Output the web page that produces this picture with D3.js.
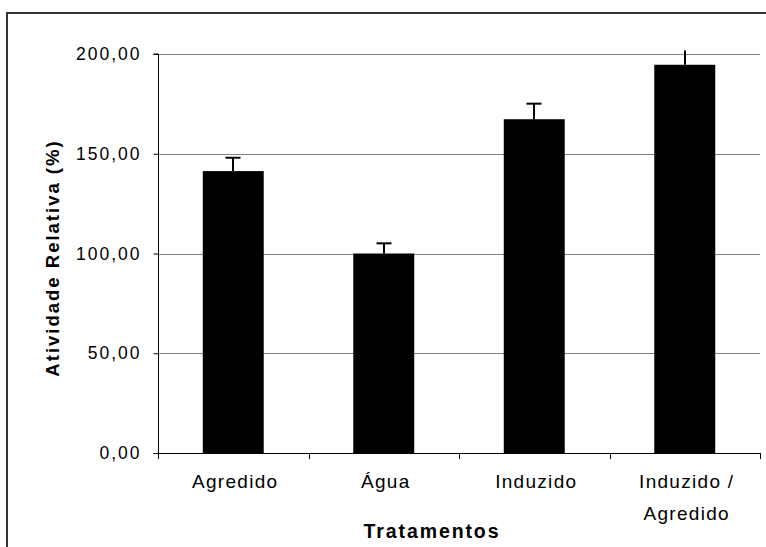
<!DOCTYPE html>
<html>
<head>
<meta charset="utf-8">
<script src="https://cdn.jsdelivr.net/npm/d3@7"></script>
<style>
  html, body { margin: 0; padding: 0; background: #fff; }
  svg { display: block; }
  text { font-family: Arial, "Liberation Sans", sans-serif; fill: #000; }
</style>
</head>
<body>
<svg id="chart" width="766" height="547"></svg>
<script>
const categories = ["Agredido", "Água", "Induzido", "Induzido / Agredido"];
const categoryLines = [["Agredido"], ["Água"], ["Induzido"], ["Induzido /", "Agredido"]];
const values = [141.3, 100.0, 167.3, 194.6];
const errors = [6.7, 5.1, 7.8, 7.2];
const yTicks = [0, 50, 100, 150, 200];
const xTitle = "Tratamentos";
const yTitle = "Atividade Relativa (%)";

const svg = d3.select("#chart");
const W = 766, H = 547;
const plot = { left: 158, right: 760, top: 54, bottom: 453 };

// outer chart border (only top/left visible in reference)
svg.append("rect")
  .attr("x", 7).attr("y", 13)
  .attr("width", W + 20).attr("height", H + 20)
  .attr("fill", "none").attr("stroke", "#333").attr("stroke-width", 2);

const x = d3.scaleBand()
  .domain(categories)
  .range([plot.left, plot.right])
  .paddingInner(0.595)
  .paddingOuter(0.2975);

const y = d3.scaleLinear().domain([0, 200]).range([plot.bottom, plot.top]);

const fmt = v => d3.format(".2f")(v).replace(".", ",");

// gridlines
svg.append("g").selectAll("line")
  .data(yTicks.filter(t => t > 0))
  .join("line")
  .attr("x1", plot.left).attr("x2", plot.right)
  .attr("y1", d => Math.round(y(d)) + 0.5).attr("y2", d => Math.round(y(d)) + 0.5)
  .attr("stroke", "#808080").attr("stroke-width", 1);

// bars
svg.append("g").selectAll("rect")
  .data(values)
  .join("rect")
  .attr("x", (d, i) => x(categories[i]))
  .attr("width", x.bandwidth())
  .attr("y", d => y(d))
  .attr("height", d => y(0) - y(d))
  .attr("fill", "#000");

// error bars
const eg = svg.append("g").attr("stroke", "#000").attr("stroke-width", 2);
values.forEach((v, i) => {
  const cx = Math.round(x(categories[i]) + x.bandwidth() / 2);
  const top = v + errors[i];
  eg.append("line")
    .attr("x1", cx).attr("x2", cx)
    .attr("y1", y(v)).attr("y2", y(top));
  if (top <= y.domain()[1]) {
    eg.append("line")
      .attr("x1", cx - 7.5).attr("x2", cx + 7.5)
      .attr("y1", y(top)).attr("y2", y(top));
  }
});

// y axis
const yAxis = d3.axisLeft(y).tickValues(yTicks).tickSize(5).tickPadding(12).tickFormat(fmt);
const gy = svg.append("g").attr("transform", `translate(${plot.left + 0.5},0)`).call(yAxis);
gy.select(".domain").attr("stroke", "#000").attr("d", `M-5,${plot.top}H0V${plot.bottom}`);
gy.selectAll(".tick line").attr("stroke", "#000");
gy.selectAll(".tick text")
  .attr("font-size", 17.5).attr("letter-spacing", "2px")
  .attr("font-family", "Arial, 'Liberation Sans', sans-serif")
  .attr("fill", "#000");

// x axis line and boundary ticks
const step = x.step();
const gx = svg.append("g");
gx.append("line")
  .attr("x1", plot.left).attr("x2", plot.right)
  .attr("y1", y(0) + 0.5).attr("y2", y(0) + 0.5)
  .attr("stroke", "#000");
d3.range(categories.length + 1).forEach(i => {
  const bx = Math.round(x.range()[0] + i * step) + 0.5;
  gx.append("line")
    .attr("x1", bx).attr("x2", bx)
    .attr("y1", y(0)).attr("y2", y(0) + 6)
    .attr("stroke", "#000");
});

// x category labels
categories.forEach((c, i) => {
  const cx = x(c) + x.bandwidth() / 2 + 2;
  const t = svg.append("text")
    .attr("text-anchor", "middle")
    .attr("font-size", 19)
    .attr("letter-spacing", "1.3px");
  categoryLines[i].forEach((ln, j) => {
    t.append("tspan").attr("x", cx).attr("y", 488 + j * 32).text(ln);
  });
});

// axis titles
svg.append("text")
  .attr("x", 432).attr("y", 538)
  .attr("text-anchor", "middle")
  .attr("font-size", 19.5).attr("font-weight", "bold")
  .attr("letter-spacing", "1.9px")
  .text(xTitle);

svg.append("text")
  .attr("transform", "translate(59,258) rotate(-90)")
  .attr("text-anchor", "middle")
  .attr("font-size", 18.5).attr("font-weight", "bold")
  .attr("letter-spacing", "2px")
  .text(yTitle);
</script>
</body>
</html>
